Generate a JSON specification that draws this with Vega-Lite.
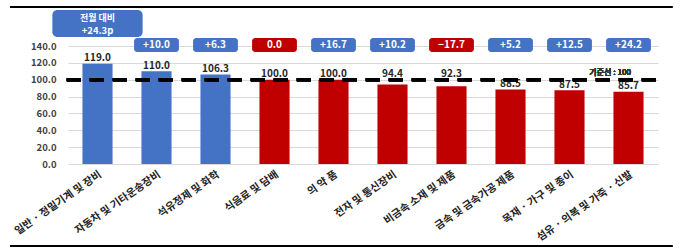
{
  "$schema": "https://vega.github.io/schema/vega-lite/v6.json",
  "width": 590,
  "height": 118,
  "autosize": {"type": "none"},
  "padding": {"left": 68, "top": 46, "right": 22, "bottom": 88},
  "background": "white",
  "config": {
    "view": {"stroke": null},
    "font": "Noto Sans CJK KR",
    "axisY": {"tickCount": 8, "format": ".1f", "labelFontSize": 9.5, "labelFontWeight": "bold", "labelColor": "#404040", "domain": false, "ticks": false, "labelPadding": 12, "grid": true, "gridColor": "#d9d9d9", "labelOverlap": false}
  },
  "data": {"values": [
    {"c": "일반 · 정밀기계 및 장비", "v": 119.0, "chg": 24.3, "lab": "+24.3"},
    {"c": "자동차 및 기타운송장비", "v": 110.0, "chg": 10.0, "lab": "+10.0"},
    {"c": "석유정제 및 화학", "v": 106.3, "chg": 6.3, "lab": "+6.3"},
    {"c": "식음료 및 담배", "v": 100.0, "chg": 0.0, "lab": "0.0"},
    {"c": "의 약 품", "v": 100.0, "chg": 16.7, "lab": "+16.7"},
    {"c": "전자 및 통신장비", "v": 94.4, "chg": 10.2, "lab": "+10.2"},
    {"c": "비금속 소재 및 제품", "v": 92.3, "chg": -17.7, "lab": "−17.7"},
    {"c": "금속 및 금속가공 제품", "v": 88.5, "chg": 5.2, "lab": "+5.2"},
    {"c": "목재 · 가구 및 종이", "v": 87.5, "chg": 12.5, "lab": "+12.5"},
    {"c": "섬유 · 의복 및 가죽 · 신발", "v": 85.7, "chg": 24.2, "lab": "+24.2"}
  ]},
  "layer": [
    {
      "layer": [
        {
          "mark": {"type": "bar", "width": {"band": 0.51}},
          "encoding": {
            "x": {"field": "c", "type": "nominal", "sort": null,
              "scale": {"paddingInner": 0, "paddingOuter": 0},
              "axis": {"title": null, "labelAngle": -35, "labelFontSize": 10.5, "labelFontWeight": "bold", "labelColor": "#222222", "domain": false, "ticks": false, "labelPadding": 5, "labelLimit": 200}},
            "y": {"field": "v", "type": "quantitative", "title": null, "scale": {"domain": [0, 140], "nice": false}},
            "color": {"condition": {"test": "datum.v > 100", "value": "#4472C4"}, "value": "#C00000"}
          }
        },
        {
          "transform": [{"filter": "datum.v < 92 || datum.v > 95"}],
          "mark": {"type": "text", "dy": -5.5, "fontSize": 10, "fontWeight": "bold", "color": "#262626"},
          "encoding": {
            "x": {"field": "c", "type": "nominal", "sort": null},
            "y": {"field": "v", "type": "quantitative", "title": null},
            "text": {"field": "v", "type": "quantitative", "format": ".1f"}
          }
        },
        {
          "transform": [{"filter": "datum.v == 94.4"}],
          "mark": {"type": "text", "dy": -10, "fontSize": 10, "fontWeight": "bold", "color": "#262626"},
          "encoding": {
            "x": {"field": "c", "type": "nominal", "sort": null},
            "y": {"field": "v", "type": "quantitative", "title": null},
            "text": {"field": "v", "type": "quantitative", "format": ".1f"}
          }
        },
        {
          "transform": [{"filter": "datum.v == 92.3"}],
          "mark": {"type": "text", "dy": -12, "fontSize": 10, "fontWeight": "bold", "color": "#262626"},
          "encoding": {
            "x": {"field": "c", "type": "nominal", "sort": null},
            "y": {"field": "v", "type": "quantitative", "title": null},
            "text": {"field": "v", "type": "quantitative", "format": ".1f"}
          }
        },
        {
          "transform": [{"filter": "datum.v != 119"}],
          "mark": {"type": "bar", "width": {"band": 0.76}, "cornerRadius": 3},
          "encoding": {
            "x": {"field": "c", "type": "nominal", "sort": null},
            "y": {"datum": 133, "type": "quantitative"},
            "y2": {"datum": 149.5},
            "color": {"condition": {"test": "datum.chg > 0", "value": "#4472C4"}, "value": "#C00000"}
          }
        },
        {
          "transform": [{"filter": "datum.v != 119"}],
          "mark": {"type": "text", "fontSize": 10, "fontWeight": "bold", "color": "white", "baseline": "middle"},
          "encoding": {
            "x": {"field": "c", "type": "nominal", "sort": null},
            "y": {"datum": 141.2, "type": "quantitative"},
            "text": {"field": "lab"}
          }
        },
        {
          "transform": [{"filter": "datum.v == 119"}],
          "mark": {"type": "bar", "width": {"band": 1.53}, "cornerRadius": 5, "color": "#4472C4"},
          "encoding": {
            "x": {"field": "c", "type": "nominal", "sort": null},
            "y": {"datum": 150.7, "type": "quantitative"},
            "y2": {"datum": 182.7}
          }
        },
        {
          "transform": [{"filter": "datum.v == 119"}],
          "mark": {"type": "text", "fontSize": 9, "fontWeight": "bold", "color": "white", "baseline": "middle"},
          "encoding": {
            "x": {"field": "c", "type": "nominal", "sort": null},
            "y": {"datum": 173.4, "type": "quantitative"},
            "text": {"value": "전월 대비"}
          }
        },
        {
          "transform": [{"filter": "datum.v == 119"}],
          "mark": {"type": "text", "fontSize": 9.5, "fontWeight": "bold", "color": "white", "baseline": "middle"},
          "encoding": {
            "x": {"field": "c", "type": "nominal", "sort": null},
            "y": {"datum": 158.0, "type": "quantitative"},
            "text": {"value": "+24.3p"}
          }
        }
      ]
    },
    {
      "layer": [
        {
          "mark": {"type": "rule", "color": "black", "strokeWidth": 3, "strokeDash": [14, 9]},
          "encoding": {
            "x": {"datum": -0.002, "type": "quantitative", "scale": {"domain": [0, 1]}, "axis": null},
            "x2": {"datum": 1.003},
            "y": {"datum": 100, "type": "quantitative"}
          }
        },
        {
          "mark": {"type": "rule", "color": "black", "strokeWidth": 2},
          "encoding": {
            "x": {"datum": -0.098, "type": "quantitative"},
            "x2": {"datum": 1.024},
            "y": {"datum": 186.3, "type": "quantitative"}
          }
        },
        {
          "mark": {"type": "rule", "color": "black", "strokeWidth": 2},
          "encoding": {
            "x": {"datum": -0.098, "type": "quantitative"},
            "x2": {"datum": 1.024},
            "y": {"datum": -97.3, "type": "quantitative"}
          }
        },
        {
          "mark": {"type": "text", "fontSize": 8, "fontWeight": 500, "color": "#333333", "baseline": "middle"},
          "encoding": {
            "x": {"datum": 0.919, "type": "quantitative"},
            "y": {"datum": 108, "type": "quantitative"},
            "text": {"value": "기준선 : 100"}
          }
        }
      ]
    }
  ],
  "resolve": {"scale": {"x": "independent"}}
}
